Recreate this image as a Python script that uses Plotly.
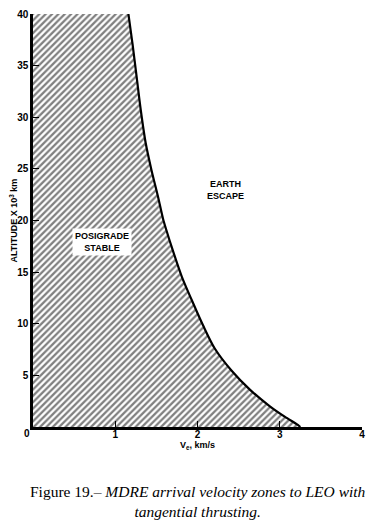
import plotly.graph_objects as go

# Boundary curve between posigrade-stable and earth-escape zones
velocity = [1.16, 1.21, 1.26, 1.31, 1.37, 1.44, 1.52, 1.58, 1.62, 1.70, 1.81, 1.93, 2.07, 2.21, 2.41, 2.64, 2.88, 3.06, 3.22, 3.25]
altitude = [40, 37.1, 33.9, 30.7, 27.5, 24.9, 22.3, 20.2, 19.1, 17.1, 14.55, 12.3, 9.8, 7.6, 5.5, 3.6, 2.0, 1.0, 0.2, 0]

x_ticks = [1, 2, 3, 4]
y_ticks = [5, 10, 15, 20, 25, 30, 35, 40]

fig = go.Figure()

# hatched region (stable zone)
fx = [0, 0] + velocity + [0]
fy = [0, 40] + altitude + [0]
fig.add_trace(go.Scatter(
    x=fx, y=fy, mode="lines", fill="toself",
    fillcolor="rgba(0,0,0,0)",
    fillpattern=dict(shape="/", size=4.5, solidity=0.5, fgcolor="black", bgcolor="white"),
    line=dict(width=0, color="rgba(0,0,0,0)"),
    hoverinfo="skip", showlegend=False))

# boundary curve
fig.add_trace(go.Scatter(
    x=velocity, y=altitude, mode="lines",
    line=dict(color="black", width=2.2, shape="spline", smoothing=0.8),
    showlegend=False))

tick_font = dict(family="Liberation Sans", size=10, color="black", weight="bold")
lab_font = dict(family="Liberation Sans", size=9, color="black", weight="bold")

fig.update_xaxes(
    range=[0, 4], showgrid=False, zeroline=False, automargin=False,
    showline=True, linecolor="black", linewidth=2.5,
    ticks="inside", ticklen=6, tickwidth=1.2, tickcolor="black",
    tickvals=x_ticks, ticktext=[str(v) for v in x_ticks],
    tickfont=tick_font, ticklabelstandoff=-4,
)
fig.update_yaxes(
    range=[0, 40], showgrid=False, zeroline=False, automargin=False,
    showline=True, linecolor="black", linewidth=2.5,
    ticks="inside", ticklen=6, tickwidth=1.2, tickcolor="black",
    tickvals=y_ticks, ticktext=[str(v) for v in y_ticks],
    tickfont=tick_font,
)

fig.add_annotation(x=0, y=0, xref="x", yref="y", text="0", showarrow=False,
                   xshift=-6, yshift=-6, yanchor="middle", font=tick_font)

fig.add_annotation(x=2, y=0, xref="x", yref="paper", text="V<sub>e</sub>, km/s",
                   showarrow=False, yanchor="middle", yshift=-18, font=lab_font)
fig.add_annotation(x=0, y=0.5, xref="paper", yref="paper", text="ALTITUDE X 10<sup>3</sup> km",
                   showarrow=False, xanchor="center", yanchor="middle", xshift=-20,
                   textangle=-90, font=lab_font)

fig.add_annotation(x=2.345, y=23.0, xref="x", yref="y", text="EARTH<br>ESCAPE",
                   showarrow=False, font=lab_font)
fig.add_annotation(x=0.84, y=17.96, xref="x", yref="y", text="POSIGRADE<br>STABLE",
                   showarrow=False, bgcolor="white", borderpad=2, font=lab_font)

fig.add_annotation(x=0.5, y=0, xref="paper", yref="paper", yshift=-54,
                   text="Figure 19.– <i>MDRE arrival velocity zones to LEO with</i><br><i>tangential thrusting.</i>",
                   showarrow=False, yanchor="top", align="center",
                   font=dict(family="Liberation Serif", size=15.5, color="black"))

# page has an 8px body margin, so the figure is sized to fit inside the window
fig.update_layout(
    width=368, height=512,
    margin=dict(l=25, r=14, t=6, b=93, autoexpand=False),
    paper_bgcolor="white", plot_bgcolor="white",
)

fig.write_html("out.html")
